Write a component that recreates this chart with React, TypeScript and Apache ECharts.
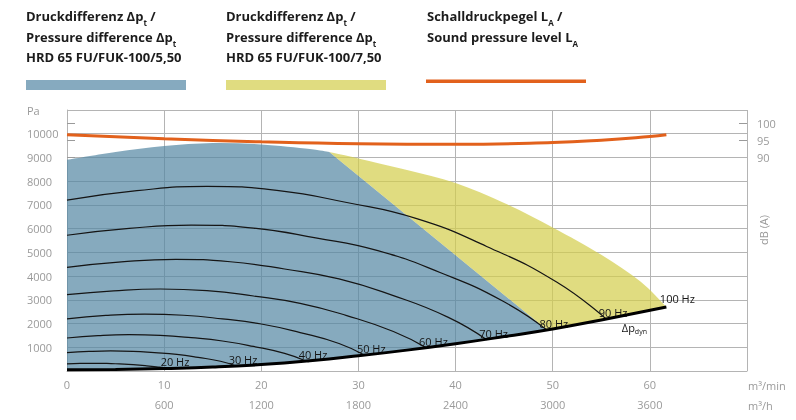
import React, { useEffect, useRef } from 'react';
import * as echarts from 'echarts';

const FONT = '"Open Sans", "DejaVu Sans", sans-serif';
const GRID = '#b4b4b4';
const LABEL = '#9a9a9a';
const INK = '#151515';

// ---- axis ticks ----
const xTicksMin = [0, 10, 20, 30, 40, 50, 60];
const xTicksH = ['', '600', '1200', '1800', '2400', '3000', '3600'];
const yTicksPa = [1000, 2000, 3000, 4000, 5000, 6000, 7000, 8000, 9000, 10000];
const dbTicks = [90, 95, 100];
const dbInnerTicks = [95, 100];

// ---- data: [m³/min, Pa] ----
const hz100: [number, number][] = [
  [0, 8900], [5, 9230], [10, 9480], [15, 9610], [20, 9550], [25, 9360], [27, 9230],
  [30, 8960], [35, 8470], [40, 7920], [45, 7080], [50, 6050], [55, 4900], [59, 3780], [61.7, 2700],
];
const blueLimit: [number, number][] = [[27, 9230], [49.4, 1735]];
const dpDyn: [number, number][] = [
  [0, 50], [5, 65], [10, 105], [15, 165], [20, 270], [25, 430], [30, 640], [35, 880],
  [40, 1150], [45, 1450], [50, 1770], [55, 2150], [61.7, 2700],
];
const hz90: [number, number][] = [[0, 7200], [7.2, 7600], [14.4, 7780], [21.6, 7610], [28.8, 7100], [36, 6420], [43.2, 5250], [50.4, 3750], [55.5, 2190]];
const hz80: [number, number][] = [[0, 5720], [6.4, 6010], [12.8, 6150], [19.2, 6020], [25.6, 5610], [32, 5070], [38.4, 4150], [44.8, 2960], [49.4, 1730]];
const hz70: [number, number][] = [[0, 4370], [5.6, 4600], [11.2, 4705], [16.8, 4605], [22.4, 4300], [28, 3880], [33.6, 3175], [39.2, 2270], [43.2, 1320]];
const hz60: [number, number][] = [[0, 3220], [4.8, 3380], [9.6, 3455], [14.4, 3385], [19.2, 3160], [24, 2850], [28.8, 2335], [33.6, 1665], [37, 975]];
const hz50: [number, number][] = [[0, 2200], [4, 2345], [8, 2400], [12, 2350], [16, 2195], [20, 1980], [24, 1620], [28, 1160], [30.6, 670]];
const hz40: [number, number][] = [[0, 1390], [3.2, 1490], [6.4, 1530], [9.6, 1500], [12.8, 1405], [16, 1265], [19.2, 1035], [22.4, 740], [24.6, 420]];
const hz30: [number, number][] = [[0, 775], [2.26, 825], [4.5, 845], [6.8, 830], [9, 775], [11.3, 700], [13.5, 575], [15.8, 410], [17.4, 210]];
const hz20: [number, number][] = [[0, 300], [1.36, 318], [2.72, 325], [4.1, 318], [5.4, 297], [6.8, 268], [8.2, 220], [9.5, 160], [10.4, 110]];
const speedCurves: { label: string; data: [number, number][] }[] = [
  { label: '20 Hz', data: hz20 }, { label: '30 Hz', data: hz30 }, { label: '40 Hz', data: hz40 },
  { label: '50 Hz', data: hz50 }, { label: '60 Hz', data: hz60 }, { label: '70 Hz', data: hz70 },
  { label: '80 Hz', data: hz80 }, { label: '90 Hz', data: hz90 },
];
// sound pressure level [m³/min, dB(A)]
const soundLevel: [number, number][] = [
  [0, 96.7], [10, 95.5], [20, 94.6], [30, 94.05], [40, 93.9], [50, 94.4], [55, 95.1], [60, 96.2], [61.7, 96.7],
];

const legendTexts = [
  '{b|Druckdifferenz Δp}{s|t}{b| /}\n{b|Pressure difference Δp}{s|t}\n{b|HRD 65 FU/FUK-100/5,50}',
  '{b|Druckdifferenz Δp}{s|t}{b| /}\n{b|Pressure difference Δp}{s|t}\n{b|HRD 65 FU/FUK-100/7,50}',
  '{b|Schalldruckpegel L}{s|A}{b| /}\n{b|Sound pressure level L}{s|A}',
];

type Seg = { pts: [number, number][]; smooth: boolean };

// builds an SVG path (pixel space) from segments; smooth segments use Catmull-Rom beziers
function buildPath(segs: Seg[], api: any): string {
  let d = '';
  segs.forEach((seg, si) => {
    const px = seg.pts.map((p) => api.coord(p) as number[]);
    d += (si === 0 ? 'M' : 'L') + px[0][0].toFixed(2) + ',' + px[0][1].toFixed(2);
    for (let i = 0; i < px.length - 1; i++) {
      const p1 = px[i];
      const p2 = px[i + 1];
      if (!seg.smooth) {
        d += 'L' + p2[0].toFixed(2) + ',' + p2[1].toFixed(2);
        continue;
      }
      const p0 = px[i - 1] || p1;
      const p3 = px[i + 2] || p2;
      const c1x = p1[0] + (p2[0] - p0[0]) / 6;
      const c1y = p1[1] + (p2[1] - p0[1]) / 6;
      const c2x = p2[0] - (p3[0] - p1[0]) / 6;
      const c2y = p2[1] - (p3[1] - p1[1]) / 6;
      d += 'C' + [c1x, c1y, c2x, c2y, p2[0], p2[1]].map((v) => v.toFixed(2)).join(',');
    }
  });
  return d + 'Z';
}

export default function App() {
  const ref = useRef<HTMLDivElement>(null);
  useEffect(() => {
    if (!ref.current) return;
    const chart = echarts.init(ref.current, null, { renderer: 'svg' });

    const corner = blueLimit[0];
    const split = blueLimit[1];
    const endPt = hz100[hz100.length - 1];
    const blueSegs: Seg[] = [
      { pts: hz100.filter((p) => p[0] <= corner[0]), smooth: true },
      { pts: [split], smooth: false },
      { pts: [split, ...dpDyn.filter((p) => p[0] < split[0]).reverse()], smooth: true },
    ];
    const yellowSegs: Seg[] = [
      { pts: hz100.filter((p) => p[0] >= corner[0]), smooth: true },
      { pts: [endPt, ...dpDyn.filter((p) => p[0] > split[0] && p[0] < endPt[0]).reverse(), split], smooth: true },
      { pts: [corner], smooth: false },
    ];

    const legendRich = {
      b: { fontFamily: FONT, fontWeight: 'bold' as const, fontSize: 13, lineHeight: 20.5, fill: '#1c1c1c', color: '#1c1c1c' },
      s: { fontFamily: FONT, fontWeight: 'bold' as const, fontSize: 8, lineHeight: 10, verticalAlign: 'bottom' as const, fill: '#1c1c1c', color: '#1c1c1c' },
    };

    const areaSeries = (segs: Seg[], fill: string) => ({
      type: 'custom',
      coordinateSystem: 'cartesian2d',
      silent: true,
      z: 1,
      data: [[0, 0]],
      renderItem: (_p: any, api: any) => ({
        type: 'path',
        shape: { pathData: buildPath(segs, api) },
        style: { fill, stroke: 'none' },
      }),
    });

    const labelStyle = { fontFamily: FONT, fontSize: 11, color: INK };

    const curveSeries = speedCurves.map((c) => ({
      type: 'line',
      silent: true,
      smooth: 0.5,
      symbol: 'circle',
      symbolSize: 0,
      showSymbol: true,
      z: 3,
      lineStyle: { color: INK, width: 1.2 },
      itemStyle: { color: INK },
      data: c.data.map((p, i) =>
        i === c.data.length - 1
          ? { value: p, label: { show: true, formatter: c.label, position: 'top', distance: 1, offset: [7, 0], ...labelStyle } }
          : { value: p }
      ),
    }));

    chart.setOption({
      animation: false,
      grid: { left: 67, right: 49, top: 110, bottom: 49 },
      xAxis: [
        {
          type: 'value', min: 0, max: 70, interval: 10,
          axisLine: { show: true, lineStyle: { color: GRID } },
          axisTick: { show: false },
          splitLine: { show: true, lineStyle: { color: GRID, width: 1 } },
          axisLabel: {
            color: LABEL, fontFamily: FONT, fontSize: 11, margin: 8,
            formatter: (v: number) => (xTicksMin.includes(v) ? String(v) : ''),
          },
        },
        {
          type: 'value', min: 0, max: 70, interval: 10, position: 'bottom', offset: 20,
          axisLine: { show: false }, axisTick: { show: false }, splitLine: { show: false },
          axisLabel: {
            color: LABEL, fontFamily: FONT, fontSize: 11, margin: 8,
            formatter: (v: number) => { const i = xTicksMin.indexOf(v); return i >= 0 ? xTicksH[i] : ''; },
          },
        },
      ],
      yAxis: [
        {
          type: 'value', min: 0, max: 11000, interval: 1000,
          axisLine: { show: true, lineStyle: { color: GRID } },
          axisTick: { show: false },
          splitLine: { show: true, lineStyle: { color: GRID, width: 1 } },
          axisLabel: {
            color: LABEL, fontFamily: FONT, fontSize: 11, align: 'left', margin: 40,
            formatter: (v: number) => (v === 11000 ? 'Pa' : yTicksPa.includes(v) ? String(v) : ''),
          },
        },
        {
          type: 'value', min: 27, max: 104, position: 'right',
          axisLine: { show: false },
          splitLine: { show: false },
          axisTick: { show: true, length: 8, customValues: dbTicks, lineStyle: { color: LABEL } },
          axisLabel: { color: LABEL, fontFamily: FONT, fontSize: 11, margin: 10, customValues: dbTicks },
        },
        {
          type: 'value', min: 27, max: 104, position: 'right',
          axisLine: { show: false },
          splitLine: { show: false },
          axisTick: { show: true, inside: true, length: 8, customValues: dbInnerTicks, lineStyle: { color: LABEL } },
          axisLabel: { show: false },
        },
      ],
      series: [
        areaSeries(blueSegs, 'rgba(82,134,162,0.7)'),
        areaSeries(yellowSegs, 'rgba(211,205,74,0.7)'),
        ...curveSeries,
        {
          type: 'line', silent: true, smooth: 0.5, symbol: 'circle', symbolSize: 0, showSymbol: true, z: 3,
          lineStyle: { width: 0, opacity: 0 },
          data: hz100.map((p, i) =>
            i === hz100.length - 1
              ? { value: p, label: { show: true, formatter: '100 Hz', position: 'top', distance: 3, offset: [11, 0], ...labelStyle } }
              : { value: p }
          ),
        },
        {
          type: 'line', silent: true, smooth: 0.5, symbol: 'circle', symbolSize: 0, showSymbol: true, z: 4,
          lineStyle: { color: '#000', width: 3 },
          data: dpDyn.map((p, i) =>
            i === dpDyn.length - 1
              ? {
                  value: p,
                  label: {
                    show: true, position: 'bottom', distance: 2, offset: [-32, 12],
                    formatter: '{a|Δp}{s|dyn}',
                    rich: {
                      a: { fontFamily: FONT, fontSize: 11, color: INK, lineHeight: 14 },
                      s: { fontFamily: FONT, fontSize: 7, color: INK, lineHeight: 8, verticalAlign: 'bottom' },
                    },
                  },
                }
              : { value: p }
          ),
        },
        {
          type: 'line', yAxisIndex: 1, silent: true, smooth: 0.5, showSymbol: false, z: 5,
          lineStyle: { color: '#e2611c', width: 3 },
          data: soundLevel,
        },
      ],
      graphic: [
        { type: 'text', x: 26, y: 6, style: { text: legendTexts[0], rich: legendRich, verticalAlign: 'top' } },
        { type: 'text', x: 226, y: 6, style: { text: legendTexts[1], rich: legendRich, verticalAlign: 'top' } },
        { type: 'text', x: 427, y: 6, style: { text: legendTexts[2], rich: legendRich, verticalAlign: 'top' } },
        { type: 'rect', shape: { x: 26, y: 80, width: 160, height: 10 }, style: { fill: '#86aabf' } },
        { type: 'rect', shape: { x: 226, y: 80, width: 160, height: 10 }, style: { fill: '#e0dc80' } },
        { type: 'rect', shape: { x: 426, y: 79.5, width: 160, height: 3.5 }, style: { fill: '#e2611c' } },
        { type: 'text', x: 748, y: 385, style: { text: 'm³/min', fill: LABEL, font: `11px ${FONT}`, verticalAlign: 'middle' } },
        { type: 'text', x: 748, y: 405, style: { text: 'm³/h', fill: LABEL, font: `11px ${FONT}`, verticalAlign: 'middle' } },
        { type: 'text', x: 763, y: 230, rotation: Math.PI / 2, style: { text: 'dB (A)', fill: LABEL, font: `11px ${FONT}`, align: 'center', verticalAlign: 'middle' } },
      ],
    });
    return () => chart.dispose();
  }, []);
  return <div ref={ref} style={{ position: 'fixed', left: 0, top: 0, width: 796, height: 420 }} />;
}
